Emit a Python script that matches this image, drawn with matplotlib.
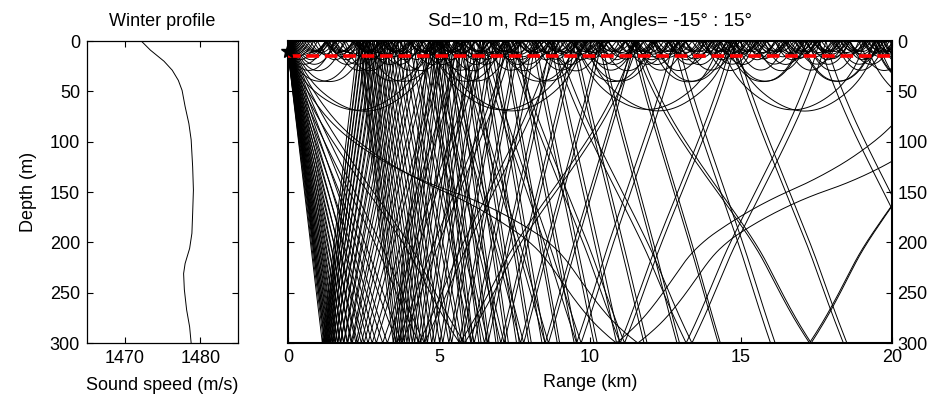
import numpy as np
import matplotlib.pyplot as plt

plt.rcParams['font.family'] = ['Liberation Sans', 'DejaVu Sans']
plt.rcParams['font.size'] = 13

# Winter sound speed profile
depth = np.array([0, 9, 20, 29, 39, 49, 65, 82, 98, 125, 148, 171, 191,
                  206, 221, 231, 247, 267, 284, 300])
speed = np.array([1472.2, 1473.4, 1475.2, 1476.3, 1477.1, 1477.6, 1478.0,
                  1478.5, 1478.8, 1479.0, 1479.1, 1479.0, 1478.9, 1478.6,
                  1478.0, 1477.8, 1477.9, 1478.2, 1478.6, 1478.8])

source_depth = 10      # m
receiver_depth = 15    # m
launch_angles = np.linspace(-15, 15, 61)   # deg, positive = downward
max_range = 20000.0    # m
bottom_depth = 300.0   # m
max_bottom_hits = 2


def trace_rays(angles_deg, ds=2.0):
    """Simple ray tracer in a range-independent profile"""
    zg = np.arange(0, bottom_depth + 1, 1.0)
    cg = np.interp(zg, depth, speed)
    dcg = np.gradient(cg, zg)

    n = len(angles_deg)
    nsteps = int(max_range / np.cos(np.deg2rad(np.abs(angles_deg).max())) / ds) + 50
    R = np.full((nsteps, n), np.nan)
    Z = np.full((nsteps, n), np.nan)

    r = np.zeros(n)
    z = np.full(n, source_depth, dtype=float)
    th = np.deg2rad(angles_deg)
    alive = np.ones(n, dtype=bool)
    hits = np.zeros(n, dtype=int)
    R[0], Z[0] = r, z

    for i in range(1, nsteps):
        c = np.interp(z, zg, cg)
        dc = np.interp(z, zg, dcg)
        th = th - np.cos(th) / c * dc * ds
        r = r + np.cos(th) * ds
        z = z + np.sin(th) * ds

        # surface reflection
        up = z < 0
        z[up] = -z[up]
        th[up] = -th[up]

        # bottom reflection / termination
        down = z > bottom_depth
        hits[down & alive] += 1
        stop = down & (hits > max_bottom_hits)
        bounce = down & ~stop
        z[bounce] = 2 * bottom_depth - z[bounce]
        th[bounce] = -th[bounce]
        z[stop] = bottom_depth

        R[i, alive] = r[alive]
        Z[i, alive] = z[alive]
        alive &= ~stop
        alive &= r < max_range
        if not alive.any():
            break
    return R, Z


ray_r, ray_z = trace_rays(launch_angles)

fig = plt.figure(figsize=(9.35, 4.01), dpi=100)
ax1 = fig.add_axes([0.093, 0.1446, 0.1615, 0.753])
ax2 = fig.add_axes([0.308, 0.1446, 0.646, 0.753])

# profile
ax1.plot(speed, depth, color='k', lw=0.7)
ax1.set_xlim(1465, 1485)
ax1.set_ylim(300, 0)
ax1.set_xticks([1470, 1480])
ax1.set_yticks(np.arange(0, 301, 50))
ax1.tick_params(direction='in', top=True, right=True, length=4, pad=5)
ax1.set_title('Winter profile', fontsize=13, pad=11)
ax1.set_xlabel('Sound speed (m/s)', labelpad=7)
ax1.set_ylabel('Depth (m)', labelpad=9)
for s in ax1.spines.values():
    s.set_linewidth(0.9)

# rays
ax2.plot(ray_r / 1000, ray_z, color='k', lw=0.7)
ax2.axhline(receiver_depth, color='r', lw=2.6, dashes=(3.5, 1.6), zorder=4)
ax2.plot(0, source_depth, marker='*', color='k', ms=11, clip_on=False, zorder=5)
ax2.set_xlim(0, 20)
ax2.set_ylim(300, 0)
ax2.set_xticks([0, 5, 10, 15, 20])
ax2.set_yticks(np.arange(0, 301, 50))
ax2.yaxis.tick_right()
ax2.tick_params(direction='in', top=True, left=True, right=True, bottom=True,
                labelleft=False, labelright=True, length=4, pad=4)
ax2.set_title('Sd=10 m, Rd=15 m, Angles= -15° : 15°', fontsize=13.5, pad=11)
ax2.set_xlabel('Range (km)', labelpad=6)
for s in ax2.spines.values():
    s.set_linewidth(1.5)

fig.savefig('out.png', dpi=100)
